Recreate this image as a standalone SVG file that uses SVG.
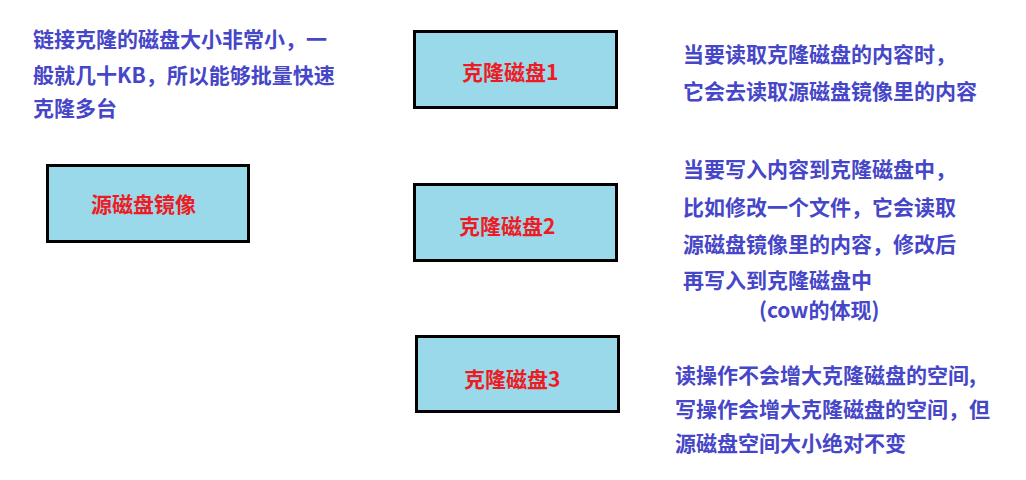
<svg xmlns="http://www.w3.org/2000/svg" width="1026" height="480" viewBox="0 0 1026 480">
<style>
.box{fill:#99d9ea;stroke:#000;stroke-width:3}
.lbl{font-family:"Noto Sans CJK SC","Noto Sans",sans-serif;font-size:21px;font-weight:bold;fill:#ed1c24}
.note{font-family:"Noto Sans CJK SC","Noto Sans",sans-serif;font-size:21px;font-weight:bold;fill:#4646c8}
</style>
<rect width="1026" height="480" fill="#fff"/>
<g id="node-source">
<rect class="box" x="47.5" y="165.5" width="201" height="76"/>
<text class="lbl" x="91" y="212">源磁盘镜像</text>
</g>
<g id="node-clone1">
<rect class="box" x="414.5" y="31.5" width="202" height="76"/>
<text class="lbl" x="462" y="80">克隆磁盘1</text>
</g>
<g id="node-clone2">
<rect class="box" x="414.5" y="184.5" width="202" height="76"/>
<text class="lbl" x="459" y="234">克隆磁盘2</text>
</g>
<g id="node-clone3">
<rect class="box" x="416.5" y="336.5" width="202" height="75"/>
<text class="lbl" x="464" y="387">克隆磁盘3</text>
</g>
<g id="connectors"></g>
<g id="notes">
<text class="note" x="33" y="47">链接克隆的磁盘大小非常小，一</text>
<text class="note" x="33" y="83">般就几十KB，所以能够批量快速</text>
<text class="note" x="33" y="116">克隆多台</text>
<text class="note" x="683" y="62">当要读取克隆磁盘的内容时，</text>
<text class="note" x="683" y="99">它会去读取源磁盘镜像里的内容</text>
<text class="note" x="683" y="177">当要写入内容到克隆磁盘中，</text>
<text class="note" x="683" y="215">比如修改一个文件，它会读取</text>
<text class="note" x="683" y="252">源磁盘镜像里的内容，修改后</text>
<text class="note" x="683" y="288">再写入到克隆磁盘中</text>
<text class="note" x="759" y="318">(cow的体现)</text>
<text class="note" x="675" y="383">读操作不会增大克隆磁盘的空间,</text>
<text class="note" x="675" y="417">写操作会增大克隆磁盘的空间，但</text>
<text class="note" x="675" y="451">源磁盘空间大小绝对不变</text>
</g>
</svg>
